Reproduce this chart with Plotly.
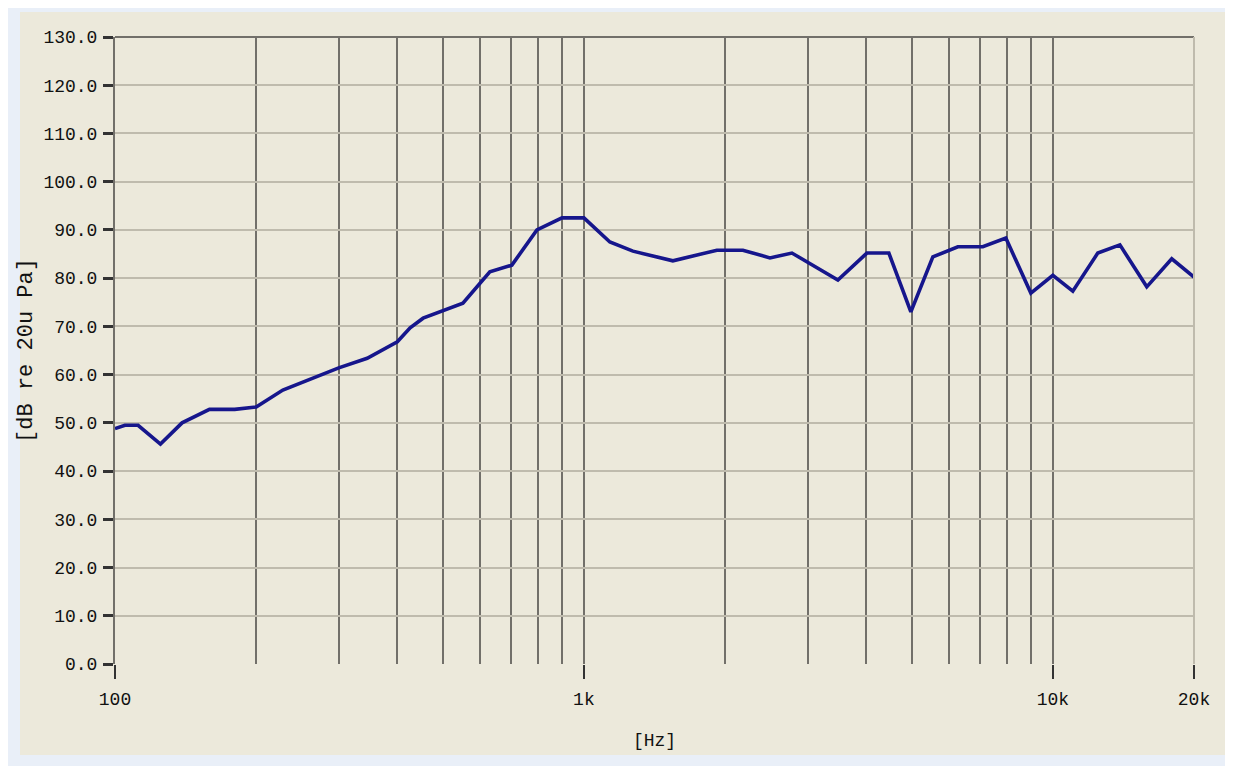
import plotly.graph_objects as go

freq_hz = [100, 105, 112, 125, 139, 159, 180, 200, 228, 300, 345, 400, 426, 454,
           552, 630, 702, 794, 898, 1000, 1136, 1272, 1548, 1921, 2183, 2493, 2777,
           3480, 4012, 4470, 4980, 5548, 6272, 7090, 7939, 8977, 10000, 11030,
           12470, 13900, 15860, 17930, 20000]
spl_db = [48.8, 49.5, 49.5, 45.6, 50.0, 52.8, 52.8, 53.3, 56.8, 61.4, 63.4, 66.8,
          69.7, 71.7, 74.8, 81.3, 82.7, 90.0, 92.5, 92.5, 87.5, 85.6, 83.6, 85.8,
          85.8, 84.2, 85.2, 79.6, 85.2, 85.2, 73.0, 84.4, 86.5, 86.5, 88.3, 76.9,
          80.6, 77.3, 85.2, 86.9, 78.2, 84.0, 80.2]

x_tick_vals = [100, 1000, 10000, 20000]
x_tick_text = ["100", "1k", "10k", "20k"]
x_grid_vals = [200, 300, 400, 500, 600, 700, 800, 900, 1000,
               2000, 3000, 4000, 5000, 6000, 7000, 8000, 9000, 10000]
y_tick_vals = list(range(0, 131, 10))
y_tick_text = [f"{v:.1f}" for v in y_tick_vals]

# page body has an 8px margin, so the figure is 8px smaller than the window
W, H = 1225, 758
ML, MR, MT, MB = 107, 39, 29, 102
PW, PH = W - ML - MR, H - MT - MB
FONT = "Liberation Mono"
TXT = "#111111"
DARK = "#72706a"
LIGHT = "#bfbbad"

fig = go.Figure()
fig.add_trace(go.Scatter(x=freq_hz, y=spl_db, mode="lines",
                         line=dict(color="#16168c", width=3.6),
                         showlegend=False, hoverinfo="x+y"))

fig.update_layout(
    width=W, height=H,
    paper_bgcolor="#e9eff8",
    plot_bgcolor="#ece9db",
    margin=dict(l=ML, r=MR, t=MT, b=MB, autoexpand=False),
    font=dict(family=FONT, size=18, color=TXT),
    xaxis=dict(
        type="log", range=[2, 4.30103],
        tickvals=x_tick_vals, ticktext=x_tick_text,
        showgrid=False, zeroline=False, showline=False,
        ticks="outside", ticklen=14, tickwidth=2, tickcolor="#333",
        ticklabelstandoff=4,
        tickfont=dict(family=FONT, size=18, color=TXT),
        minor=dict(tickvals=x_grid_vals, showgrid=True, gridcolor=DARK,
                   gridwidth=2, ticks=""),
        title=dict(text="[Hz]", font=dict(family=FONT, size=18, color=TXT), standoff=24),
    ),
    yaxis=dict(
        range=[0, 130], tickvals=y_tick_vals, ticktext=y_tick_text,
        showgrid=True, gridcolor=LIGHT, gridwidth=2, zeroline=False,
        showline=True, linecolor=DARK, linewidth=2,
        ticks="outside", ticklen=10, tickwidth=3, tickcolor="#333",
        ticklabelstandoff=2,
        tickfont=dict(family=FONT, size=18, color=TXT),
        title=dict(text="[dB re 20u Pa]", font=dict(family=FONT, size=22, color=TXT),
                   standoff=5),
    ),
)

# beige panel behind the chart (screen 20..1225 x 12..755)
fig.add_shape(type="rect", xref="paper", yref="paper", layer="below",
              x0=(12 - ML) / PW, x1=(1217 - ML) / PW,
              y0=-(747 - (MT + PH)) / PH, y1=1 + (MT - 4) / PH,
              fillcolor="#ece9db", line=dict(width=0))
# top border (dark) and right border (light)
fig.add_shape(type="line", xref="x domain", yref="y domain", x0=0, x1=1, y0=1, y1=1,
              line=dict(color=DARK, width=2))
fig.add_shape(type="line", xref="x domain", yref="y domain", x0=1, x1=1, y0=0, y1=1,
              line=dict(color=LIGHT, width=2))

fig.write_html("out.html")
